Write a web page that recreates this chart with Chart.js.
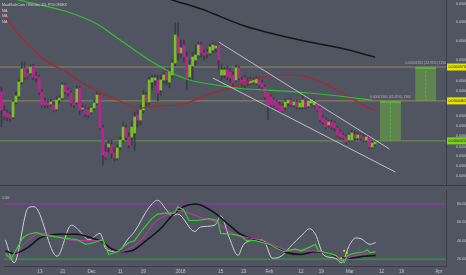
<!DOCTYPE html>
<html>
<head>
<meta charset="utf-8">
<script src="https://cdn.jsdelivr.net/npm/chart.js@4.4.1/dist/chart.umd.min.js"></script>
<style>
  html, body { margin: 0; padding: 0; background: #515562; }
  #wrap { position: relative; width: 466px; height: 275px; overflow: hidden; background: #515562; }
  #main { position: absolute; left: 0; top: 0; }
  #sep { position: absolute; left: 0; top: 185px; width: 466px; height: 1px; background: #3a3d47; }
  #osc { position: absolute; left: 0; top: 186px; }
</style>
</head>
<body>
<div id="wrap">
  <canvas id="main" width="466" height="185"></canvas>
  <div id="sep"></div>
  <canvas id="osc" width="466" height="89"></canvas>
</div>
<script>
// MAID/BTC daily candles, 1 Nov 2017 .. 10 Mar 2018, prices in satoshi
const open = [4912,4266,4198,4130,4062,4572,4776,5252,5728,5558, 5558,5796,5456,5422,4912,4572,4538,4504,4470,4334,
  4640,4708,5150,4980,4878,4572,4572,5048,4334,4334, 4300,4232,4368,4538,4810,3688,2872,3042,3110,2838,
  2668,3042,3280,3688,3382,3382,3518,4130,3960,4300, 4810,4572,5252,5320,5320,4980,5320,5592,5252,5490,
  5898,6782,6238,6510,6102,5422,5796,6000,6170,6510, 6238,6272,6238,6340,6408,6510,5490,5490,5660,5592,
  5490,5320,5728,5320,5388,5286,5218,5252,5218,5320, 5218,5082,4912,4742,4640,4572,4470,4436,4402,4538,
  4640,4470,4572,4402,4402,4572,4436,4538,4470,4470, 4368,4028,3960,3790,3892,3858,3688,3552,3450,3382,
  3280,3280,3450,3348,3450,3382,3280,3348,3042,3144];
const high = [5082,4436,4300,4232,4640,4912,5320,5932,5932,5660, 5830,5864,5592,5490,4980,4708,4640,4674,4572,4742,
  4776,5218,5218,5048,4946,4640,5116,5116,4470,4436, 4368,4436,4640,4912,4878,3790,3110,3280,3280,3008,
  3110,3382,3892,3790,3518,3892,4232,4300,4470,4980, 4912,5422,5490,5490,5490,5490,5592,5728,5728,6000,
  7258,7258,6680,6680,6272,6000,6272,6510,6612,6612, 6340,6374,6544,6612,6544,6612,5830,5762,5796,5728,
  5592,5830,5796,5422,5490,5388,5422,5388,5456,5422, 5320,5150,4980,4810,4708,4640,4572,4504,4674,4708,
  4708,4640,4640,4606,4810,4640,4674,4708,4640,4538, 4436,4130,4028,3960,3960,3926,3756,3620,3518,3450,
  3518,3620,3552,3552,3518,3484,3450,3416,3246,3280];
const low = [3722,3960,3926,3892,3994,4504,4708,5184,5320,5354, 5490,5320,5252,4810,4402,4368,4368,4436,4232,4266,
  4538,4640,4844,4776,4436,4368,4504,4130,4266,4062, 4028,4164,4300,4470,3620,2430,2600,2872,2668,2566,
  2600,2940,3212,3280,3008,3110,2940,3722,3790,4198, 4436,4470,4980,5150,4606,4810,5184,5150,5048,5388,
  5796,6000,6068,5932,4980,5320,5320,5830,6068,6102, 6000,6068,6136,6238,6272,5660,5320,5388,5320,5252,
  5116,5252,5320,5116,5048,5116,5150,5184,5150,5048, 4980,4640,3960,4368,4402,4300,4198,4198,4300,4436,
  4402,4402,4334,4334,4334,4334,4368,4470,4402,4232, 3892,3824,3654,3722,3654,3586,3382,3314,3280,3144,
  3212,3212,3246,3280,3246,3212,3212,2974,2974,3076];
const close = [4300,4096,4062,4028,4572,4776,5252,5694,5422,5456, 5762,5422,5388,4912,4470,4470,4470,4572,4300,4640,
  4708,5150,4912,4878,4538,4470,5014,4300,4368,4164, 4130,4368,4538,4810,3688,2770,2702,3144,2838,2668,
  3008,3280,3722,3382,3110,3722,4062,3960,4300,4810, 4572,5320,5388,5388,4878,5320,5490,5320,5592,5898,
  6850,6238,6408,6102,5388,5830,6102,6170,6510,6238, 6170,6204,6442,6510,6476,6000,5660,5660,5422,5388,
  5218,5728,5388,5218,5150,5218,5320,5320,5354,5150, 5082,4742,4470,4470,4470,4368,4266,4266,4572,4640,
  4470,4572,4402,4538,4640,4402,4606,4640,4572,4300, 3960,3892,3722,3892,3722,3688,3450,3382,3348,3212,
  3450,3518,3348,3450,3348,3280,3382,3042,3178,3212];

// moving averages (day index, satoshi)
const redDays = [0, 2, 7, 15, 23, 28, 34, 40, 48, 54, 61, 65, 71, 79, 90, 100, 109, 117, 123, 129];
const redVals = [7564, 7360, 6748, 6000, 5558, 5218, 4912, 4640, 4368, 4436, 4470, 4572, 4810, 5048, 5422, 5490, 5320, 4912, 4572, 4266];
const greenDays = [0, 6, 23, 33, 41, 51, 59, 65, 74, 81, 102, 113, 128];
const greenVals = [8210, 8040, 7632, 7224, 6680, 6000, 5558, 5320, 5150, 5048, 4912, 4810, 4640];
const blackDays = [51, 59, 69, 84, 103, 117, 129];
const blackVals = [8310, 8040, 7734, 7156, 6680, 6408, 6102];

// drawings
const upperDays = [75, 134];
const upperVals = [6612, 2974];
const lowerDays = [73, 136];
const lowerVals = [5388, 2192];
const levels = [5760, 4610, 3250];
const boxDays = [134.3, 146.5];
const boxLow = [3250, 4610];
const boxHigh = [4610, 5760];
const boxCaptions = ['0.00001360 (41.85%) 1360', '0.00001150 (24.95%) 1150'];

// oscillator pane
const whiteDays = [0,3,8,10,18,23,26,29,33,35,39,43,45,50,53,56,58,60,66,68,73,75,78,81,83,88,90,93,96,100,103,106,108,111,115,117,120,122,124,127,129];
const whiteVals = [41,16,76,77,23,57,50,41,48,31,28,43,50,76,84,74,67,69,50,55,57,67,43,24,36,41,40,21,23,36,45,53,47,24,21,16,36,43,42,36,38];
const oscGreenDays = [0,2,6,8,11,13,16,20,25,28,31,34,36,39,43,45,48,51,53,56,59,60,62,64,67,71,74,75,79,82,84,87,92,95,97,101,103,106,108,109,112,115,118,119,121,125,126,127,129];
const oscGreenVals = [26,20,43,47,49,46,45,43,41,36,38,41,25,28,38,40,53,64,69,70,70,77,74,62,62,64,62,48,47,45,40,40,36,31,28,31,29,33,36,29,27,24,16,23,26,28,30,27,28];
const magentaDays = [0,3,6,10,12,17,22,28,33,36,40,43,48,52,57,60,64,69,73,77,80,85,90,95,100,105,110,115,118,121,126,129];
const magentaVals = [23,23,35,45,48,45,41,40,40,31,28,31,43,60,69,73,70,64,61,52,47,43,40,33,29,29,28,24,20,23,26,28];
const oscBlackDays = [0,3,8,12,19,25,29,34,37,41,44,49,54,58,62,66,68,73,78,82,88,94,98,103,108,112,117,120,125,129];
const oscBlackVals = [29,26,33,43,47,47,44,38,31,28,29,40,53,67,77,80,79,70,57,47,40,33,27,25,28,27,21,21,23,24];
const markDays = [117, 118, 119];
const markVals = [21, 29, 27];

// axis ticks
const priceTicks = [2050, 2400, 2750, 3050, 3400, 3750, 4100, 4950, 5300, 6000, 6650, 7300, 7900];
const oscTicks = [20, 40, 60, 80];
const dateTickDays = [12, 20, 30, 40, 48, 61, 75, 83, 92, 103, 110, 120, 131, 138, 151];
const dateTickText = ['13', '21', 'Dec', '11', '19', '2018', '15', '23', 'Feb', '12', '19', 'Mar', '12', '19', 'Apr'];

const UP = '#7cc21e', DOWN = '#b8268c', WICK = '#393c46';
const AXIS_TXT = '#c9cacf', FONT = 'Liberation Sans';
const fmt = v => (v / 1e8).toFixed(8);
const pts = (xs, ys) => xs.map((x, i) => ({x: x, y: ys[i]}));
const candleColors = open.map((o, i) => close[i] >= o ? UP : DOWN);

function line(data, color, width, order, extra) {
    return Object.assign({
        type: 'line', data: data, borderColor: color, borderWidth: width,
        pointRadius: 0, cubicInterpolationMode: 'monotone', order: order,
    }, extra || {});
}

const overlay = {
    id: 'overlay',
    afterDraw(chart) {
        const ctx = chart.ctx, y = chart.scales.y, x = chart.scales.x;
        ctx.save();
        ctx.font = '3.7px "' + FONT + '"';
        ctx.textBaseline = 'middle';
        ctx.fillStyle = '#d2d3d7';
        ctx.fillText('MaidSafeCoin / Bitcoin, 1D, POLONIEX', 2, 4.5);
        ['MA', 'MA', 'MA'].forEach((t, i) => ctx.fillText(t, 2, 10.7 + i * 5.5));
        // highlighted price tags
        const tagColors = ['#e5e600', '#e5e600', '#7ed321'];
        levels.forEach((v, i) => {
            const py = y.getPixelForValue(v);
            ctx.fillStyle = tagColors[i];
            ctx.fillRect(chart.chartArea.right + 1, py - 3.5, 19, 7);
            ctx.fillStyle = '#1e1f22';
            ctx.fillText(fmt(v), chart.chartArea.right + 2.5, py);
        });
        // captions of the target boxes
        ctx.textAlign = 'center';
        ctx.fillStyle = 'rgba(200,205,200,0.75)';
        ctx.font = '3.4px "' + FONT + '"';
        boxCaptions.forEach((t, i) => {
            ctx.fillText(t, x.getPixelForValue(boxDays[i]), y.getPixelForValue(boxHigh[i]) - 3.5);
        });
        ctx.restore();
    }
};

new Chart(document.getElementById('main'), {
    type: 'bar',
    data: {
        datasets: [
            line(pts(upperDays, upperVals), 'rgba(215,215,222,0.8)', 1, 1, {cubicInterpolationMode: 'default'}),
            line(pts(lowerDays, lowerVals), 'rgba(215,215,222,0.8)', 1, 1, {cubicInterpolationMode: 'default'}),
            line(pts(blackDays, blackVals), '#15161a', 1.5, 2),
            line(pts(greenDays, greenVals), '#2ec42a', 1.2, 2),
            line(pts(redDays, redVals), '#b2232b', 1.2, 2),
            {
                type: 'bar', order: 4, grouped: false, barThickness: 2, minBarLength: 1,
                data: open.map((o, i) => ({x: i, y: [o, close[i]]})),
                backgroundColor: candleColors, borderWidth: 0,
            },
            {
                type: 'bar', order: 5, grouped: false, barThickness: 1,
                data: low.map((l, i) => ({x: i, y: [l, high[i]]})),
                backgroundColor: WICK, borderWidth: 0,
            },
            line([{x: -0.5, y: levels[0]}, {x: 153.5, y: levels[0]}], '#8e8c5a', 1, 6),
            line([{x: -0.5, y: levels[1]}, {x: 153.5, y: levels[1]}], '#8e8c5a', 1, 6),
            line([{x: -0.5, y: levels[2]}, {x: 153.5, y: levels[2]}], '#72904c', 1, 6),
            line([{x: boxDays[0], y: boxLow[0]}, {x: boxDays[0], y: boxHigh[0]}], '#46c83c', 1, 7, {borderDash: [2, 2]}),
            line([{x: boxDays[1], y: boxLow[1]}, {x: boxDays[1], y: boxHigh[1]}], '#46c83c', 1, 7, {borderDash: [2, 2]}),
            {
                type: 'bar', order: 8, grouped: false, barThickness: 21,
                data: boxDays.map((d, i) => ({x: d, y: [boxLow[i], boxHigh[i]]})),
                backgroundColor: 'rgba(110,180,60,0.5)', borderColor: '#3fc43a',
                borderWidth: {top: 1.5, left: 0, right: 0, bottom: 0}, borderSkipped: false,
            },
        ],
    },
    options: {
        responsive: false, animation: false, devicePixelRatio: 1,
        layout: {padding: 0},
        plugins: {legend: {display: false}, tooltip: {enabled: false}},
        scales: {
            x: {type: 'linear', min: -0.5, max: 153.5, display: false, offset: false},
            y: {
                type: 'linear', position: 'right', min: 1750, max: 8040,
                afterBuildTicks: s => { s.ticks = priceTicks.map(v => ({value: v})); },
                afterFit: s => { s.width = 20; s.paddingTop = 0; s.paddingBottom = 0; },
                grid: {display: false},
                border: {display: true, color: '#3a3d47'},
                ticks: {color: AXIS_TXT, padding: 2, font: {size: 3.7, family: FONT}, callback: v => fmt(v)},
            },
        },
    },
    plugins: [overlay],
});

// date labels and the pane caption of the oscillator
const oscText = {
    id: 'oscText',
    afterDraw(chart) {
        const ctx = chart.ctx, x = chart.scales.x;
        ctx.save();
        ctx.font = '3.7px "' + FONT + '"';
        ctx.fillStyle = AXIS_TXT;
        ctx.textBaseline = 'middle';
        ctx.fillText('1.50', 2, 12);
        ctx.font = '4.5px "' + FONT + '"';
        ctx.textAlign = 'center';
        dateTickDays.forEach((d, i) => {
            ctx.fillText(dateTickText[i], x.getPixelForValue(d), chart.chartArea.bottom + 5.5);
        });
        ctx.restore();
    }
};

new Chart(document.getElementById('osc'), {
    type: 'line',
    data: {
        datasets: [
            {type: 'scatter', data: pts(markDays, markVals), pointRadius: 1, pointBackgroundColor: '#e8e020', pointBorderWidth: 0, order: 0},
            line(pts(oscGreenDays, oscGreenVals), '#34d22c', 1.2, 1, {cubicInterpolationMode: 'default', tension: 0}),
            line(pts(magentaDays, magentaVals), '#d032b2', 1, 2),
            line(pts(oscBlackDays, oscBlackVals), '#141519', 1.6, 3),
            line(pts(whiteDays, whiteVals), '#cfd0d5', 1, 4),
            line([{x: -0.5, y: 80}, {x: 153.5, y: 80}], '#a82ab0', 1.2, 5),
            line([{x: -0.5, y: 20}, {x: 153.5, y: 20}], '#2f9c3a', 1.2, 5),
        ],
    },
    options: {
        responsive: false, animation: false, devicePixelRatio: 1,
        layout: {padding: 0},
        plugins: {legend: {display: false}, tooltip: {enabled: false}},
        scales: {
            x: {
                type: 'linear', min: -0.5, max: 153.5, offset: false,
                afterFit: s => { s.height = 9; s.paddingLeft = 0; s.paddingRight = 0; },
                grid: {display: false},
                border: {display: true, color: '#3a3d47'},
                ticks: {display: false},
            },
            y: {
                type: 'linear', position: 'right', min: 12.45, max: 95.2,
                afterBuildTicks: s => { s.ticks = oscTicks.map(v => ({value: v})); },
                afterFit: s => { s.width = 20; s.paddingTop = 0; s.paddingBottom = 0; },
                grid: {display: false},
                border: {display: true, color: '#3a3d47'},
                ticks: {color: AXIS_TXT, padding: 3, font: {size: 3.7, family: FONT}, callback: v => v.toFixed(4)},
            },
        },
    },
    plugins: [oscText],
});
</script>
</body>
</html>
